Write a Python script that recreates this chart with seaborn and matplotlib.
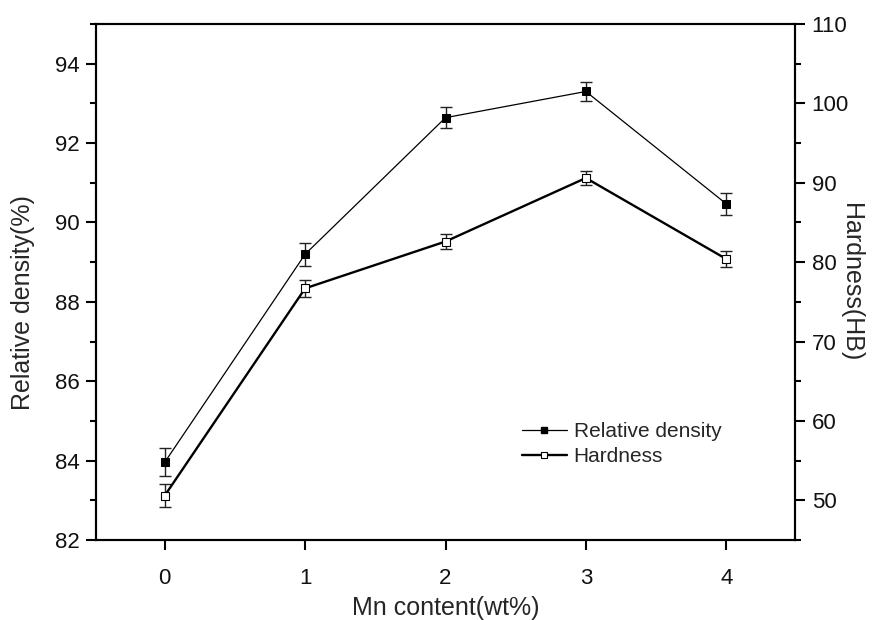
import matplotlib
matplotlib.use("Agg")
import matplotlib.pyplot as plt
import seaborn as sns
import pandas as pd
from matplotlib.ticker import MultipleLocator
from matplotlib.lines import Line2D

mn_content = [0, 1, 2, 3, 4]
rel_density = [83.96, 89.2, 92.64, 93.3, 90.47]
rel_density_err = [0.35, 0.29, 0.26, 0.25, 0.28]
hardness = [50.6, 76.7, 82.6, 90.6, 80.4]
hardness_err = [1.4, 1.1, 0.95, 0.9, 1.05]

sns.set_style("ticks")
plt.rcParams['font.family'] = ['Liberation Sans', 'DejaVu Sans']

df = pd.DataFrame({"Mn": mn_content, "RD": rel_density, "HB": hardness})

fig = plt.figure(figsize=(8.85, 6.2), dpi=100)
ax = fig.add_axes([96/885, 1-540/620, (795-96)/885, (540-24)/620])
ax2 = ax.twinx()

# Relative density
ax.errorbar(mn_content, rel_density, yerr=rel_density_err, fmt='none',
            ecolor='#222222', elinewidth=1.0, capsize=4.5, capthick=1.0, zorder=2)
sns.lineplot(data=df, x="Mn", y="RD", ax=ax, color='black', linewidth=0.9,
             marker='s', markersize=5.2, markerfacecolor='black',
             markeredgecolor='black', zorder=3)

# Hardness
ax2.errorbar(mn_content, hardness, yerr=hardness_err, fmt='none',
             ecolor='#222222', elinewidth=1.0, capsize=4.5, capthick=1.0, zorder=2)
sns.lineplot(data=df, x="Mn", y="HB", ax=ax2, color='black', linewidth=1.7,
             marker='s', markersize=5.2, markerfacecolor='white',
             markeredgecolor='black', markeredgewidth=0.8, zorder=3)

ax.set_xlim(-0.49, 4.49)
ax.set_ylim(82, 95)
ax2.set_ylim(45, 110)

ax.set_xticks(mn_content)
ax.yaxis.set_major_locator(MultipleLocator(2))
ax.yaxis.set_minor_locator(MultipleLocator(1))
ax2.yaxis.set_major_locator(MultipleLocator(10))
ax2.yaxis.set_minor_locator(MultipleLocator(5))

for a in (ax, ax2):
    for s in a.spines.values():
        s.set_visible(True)
        s.set_linewidth(1.5)
        s.set_color('black')
    a.tick_params(axis='both', which='major', direction='out', length=7,
                  width=1.5, labelsize=16, color='black', labelcolor='#111111', pad=5)
    a.tick_params(axis='both', which='minor', direction='out', length=4,
                  width=1.5, color='black')
ax.tick_params(axis='x', which='major', pad=13)

ax.set_xlabel("Mn content(wt%)", fontsize=18, labelpad=5)
ax.set_ylabel("Relative density(%)", fontsize=18, va='center', ha='center')
ax.yaxis.set_label_coords(-0.105, 0.46)
ax2.set_ylabel("Hardness(HB)", fontsize=18, rotation=270, va='center', ha='center')
ax2.yaxis.set_label_coords(1.08, 0.5)

handles = [
    Line2D([0], [0], color='black', linewidth=0.9, marker='s', markersize=4.5,
           markerfacecolor='black', markeredgecolor='black'),
    Line2D([0], [0], color='black', linewidth=1.7, marker='s', markersize=4.5,
           markerfacecolor='white', markeredgecolor='black', markeredgewidth=0.8),
]
leg = ax.legend(handles, ["Relative density", "Hardness"], loc='upper left',
                bbox_to_anchor=(0.582, 0.265), frameon=False, fontsize=15,
                handlelength=2.2, handletextpad=0.3, labelspacing=0.3)

fig.savefig("out.png", dpi=100)
